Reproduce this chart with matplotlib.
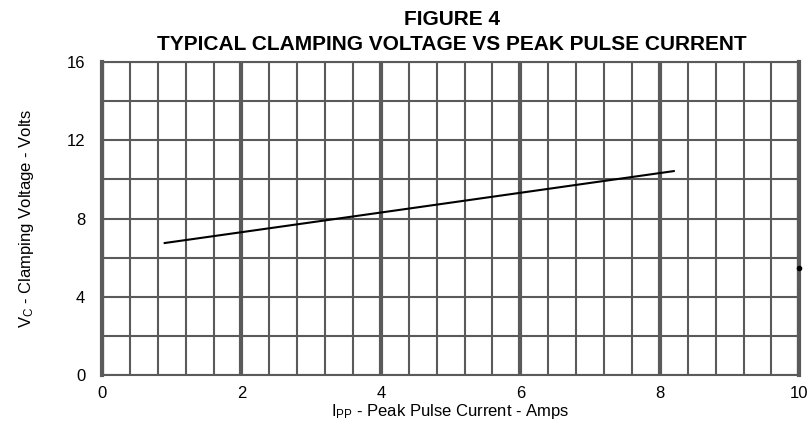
import numpy as np
import matplotlib
matplotlib.use('Agg')
import matplotlib.pyplot as plt
from matplotlib.ticker import MultipleLocator

plt.rcParams['font.family'] = ['Liberation Sans', 'DejaVu Sans']

# 曲线数据
ipp = [0.9, 4.0, 8.2]
vc = [6.75, 8.31, 10.43]
# 右侧边缘的孤立点
dot_x = [10.0]
dot_y = [5.47]

x_ticks = [0, 2, 4, 6, 8, 10]
y_ticks = [0, 4, 8, 12, 16]

grid_color = '#5a5a5a'

fig = plt.figure(figsize=(8.09, 4.32), dpi=100)
ax = fig.add_axes([0.126, 0.132, 0.862, 0.724])

ax.set_xlim(0, 10)
ax.set_ylim(0, 16)
ax.set_xticks(x_ticks)
ax.set_yticks(y_ticks)
ax.xaxis.set_minor_locator(MultipleLocator(0.4))
ax.yaxis.set_minor_locator(MultipleLocator(2))

ax.grid(True, which='major', axis='x', color=grid_color, linewidth=3.0)
ax.grid(True, which='minor', axis='x', color=grid_color, linewidth=1.5)
ax.grid(True, which='both', axis='y', color=grid_color, linewidth=1.5)
ax.set_axisbelow(True)

for side in ['left', 'right']:
    ax.spines[side].set_color(grid_color)
    ax.spines[side].set_linewidth(3.0)
for side in ['top', 'bottom']:
    ax.spines[side].set_color(grid_color)
    ax.spines[side].set_linewidth(1.5)

ax.tick_params(which='both', length=0)
ax.tick_params(axis='x', pad=8, labelsize=12)
ax.tick_params(axis='y', pad=12, labelsize=12)

ax.plot(ipp, vc, color='black', linewidth=1.5, zorder=5)
ax.plot(dot_x, dot_y, 'o', color='black', markersize=3, clip_on=False, zorder=6)

ax.set_xlabel(r'$\mathregular{I_{PP}}$ - Peak Pulse Current - Amps', fontsize=12, labelpad=1)
ax.set_ylabel(r'$\mathregular{V_{C}}$ - Clamping Voltage - Volts', fontsize=12, labelpad=22)

fig.text(0.559, 0.954, 'FIGURE 4', ha='center', va='center', fontsize=15, fontweight='bold')
fig.text(0.559, 0.897, 'TYPICAL CLAMPING VOLTAGE VS PEAK PULSE CURRENT',
         ha='center', va='center', fontsize=15, fontweight='bold')

fig.savefig('out.png', dpi=100)
